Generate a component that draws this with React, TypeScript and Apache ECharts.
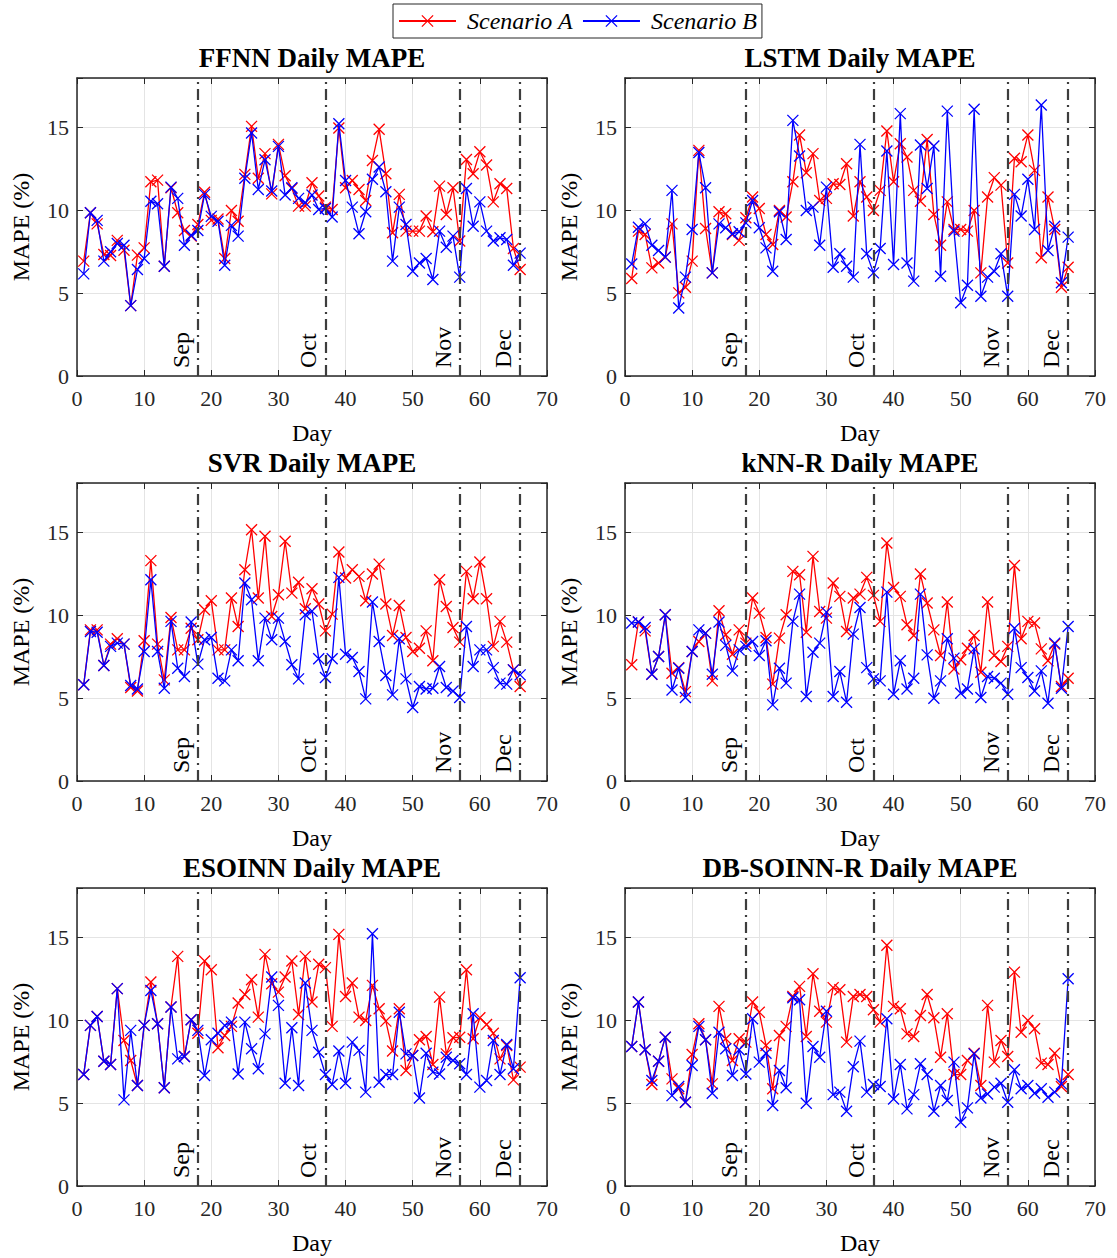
import React, { useEffect, useRef } from "react";
import * as echarts from "echarts";

const days = Array.from({ length: 66 }, (_, i) => i + 1);
const monthDays = [18, 37, 57, 66];
const monthNames = ["Sep", "Oct", "Nov", "Dec"];
const seriesNames = ["Scenario A", "Scenario B"];
const panelTitles = [
  "FFNN Daily MAPE",
  "LSTM Daily MAPE",
  "SVR Daily MAPE",
  "kNN-R Daily MAPE",
  "ESOINN Daily MAPE",
  "DB-SOINN-R Daily MAPE",
];

const ffnnA = [6.94, 9.86, 9.19, 7.34, 7.28, 8.19, 7.6, 4.25, 7.3, 7.74, 11.73, 11.83, 6.63, 11.37, 9.86, 8.79, 8.45, 9.15, 11.1, 9.4, 9.48, 7.1, 10.0, 9.35, 12.18, 15.08, 11.94, 13.43, 11.0, 13.99, 12.1, 11.33, 10.26, 10.26, 11.67, 10.87, 10.2, 10.06, 14.98, 11.37, 11.81, 11.27, 10.6, 13.02, 14.9, 12.22, 8.65, 10.97, 8.75, 8.75, 8.75, 9.66, 8.71, 11.47, 9.76, 11.37, 8.15, 13.08, 12.22, 13.55, 12.74, 10.52, 11.61, 11.33, 7.7, 6.43];
const ffnnB = [6.17, 9.86, 9.4, 6.94, 7.5, 8.0, 7.9, 4.25, 6.43, 7.1, 10.56, 10.4, 6.63, 11.41, 10.73, 7.9, 8.5, 8.79, 10.97, 9.64, 9.35, 6.69, 9.1, 8.45, 11.94, 14.68, 11.27, 13.06, 11.17, 13.87, 10.93, 11.37, 10.73, 10.46, 10.93, 10.06, 10.12, 9.6, 15.24, 11.81, 10.2, 8.59, 9.92, 11.88, 12.62, 11.13, 6.94, 10.2, 9.15, 6.33, 6.83, 7.1, 5.83, 8.75, 7.78, 8.45, 5.97, 11.33, 9.05, 10.52, 8.75, 8.15, 8.35, 8.25, 6.69, 7.42];
const lstmA = [5.89, 8.75, 8.55, 6.53, 6.83, 7.18, 9.19, 5.02, 5.36, 6.94, 13.63, 8.91, 6.23, 9.92, 9.8, 8.55, 8.19, 9.56, 10.81, 10.12, 8.55, 7.94, 10.0, 9.6, 11.73, 14.56, 12.28, 13.43, 10.6, 10.73, 11.61, 11.57, 12.82, 9.66, 11.73, 10.81, 10.0, 11.21, 14.8, 11.73, 14.03, 13.23, 11.21, 10.56, 14.29, 9.76, 7.9, 10.52, 8.85, 8.85, 8.75, 10.0, 6.23, 10.81, 11.98, 11.53, 6.83, 13.15, 12.94, 14.56, 12.42, 7.14, 10.81, 8.85, 5.36, 6.57];
const lstmB = [6.77, 8.99, 9.19, 7.9, 7.58, 7.18, 11.21, 4.11, 5.97, 8.85, 13.5, 11.37, 6.23, 9.19, 8.95, 8.59, 8.71, 9.25, 10.6, 8.95, 7.74, 6.33, 9.92, 8.25, 15.44, 13.29, 10.0, 10.2, 7.9, 11.41, 6.57, 7.38, 6.63, 5.97, 13.99, 7.38, 6.23, 7.7, 13.59, 6.73, 15.85, 6.83, 5.73, 13.95, 11.33, 13.89, 6.03, 16.0, 8.75, 4.42, 5.48, 16.11, 4.82, 5.97, 6.33, 7.38, 4.82, 10.97, 9.66, 11.88, 8.85, 16.37, 7.58, 9.05, 5.63, 8.39];
const svrA = [5.81, 9.13, 9.13, 6.98, 8.27, 8.59, 8.27, 5.65, 5.44, 8.47, 13.31, 8.27, 6.11, 9.88, 7.92, 7.92, 9.23, 8.53, 10.34, 10.89, 7.92, 7.92, 11.05, 9.33, 12.76, 15.18, 11.05, 14.78, 9.94, 11.25, 14.48, 11.35, 12.0, 10.4, 11.61, 10.69, 9.07, 10.08, 13.83, 12.26, 12.76, 12.36, 10.89, 12.5, 13.1, 10.69, 8.79, 10.6, 8.67, 7.82, 8.02, 9.07, 7.26, 12.16, 10.54, 9.27, 8.39, 12.66, 11.01, 13.23, 11.01, 8.13, 9.64, 8.39, 6.71, 5.71];
const svrB = [5.81, 9.03, 8.99, 6.98, 8.13, 8.33, 8.27, 5.77, 5.56, 7.82, 12.16, 7.82, 5.6, 9.64, 6.81, 6.31, 9.6, 7.06, 8.53, 8.67, 6.21, 6.05, 7.92, 7.26, 11.96, 10.95, 7.26, 9.84, 8.53, 9.84, 8.43, 7.02, 6.17, 10.04, 10.26, 7.38, 6.25, 7.38, 12.3, 7.66, 7.46, 6.61, 4.96, 10.81, 8.43, 6.37, 5.2, 8.59, 6.17, 4.44, 5.71, 5.56, 5.6, 6.92, 5.65, 5.44, 5.04, 9.33, 6.92, 7.92, 7.92, 6.85, 5.91, 5.85, 6.71, 6.41];
const knnA = [7.02, 9.6, 9.07, 6.45, 7.52, 10.04, 6.51, 6.85, 5.4, 7.82, 8.43, 8.93, 6.05, 10.28, 8.83, 7.66, 9.13, 8.33, 11.05, 10.14, 8.67, 5.85, 8.63, 10.04, 12.66, 12.46, 8.99, 13.57, 10.24, 9.84, 11.96, 11.15, 9.03, 11.05, 11.29, 12.3, 11.21, 9.64, 14.38, 11.69, 11.15, 9.44, 8.79, 12.5, 10.75, 9.13, 7.58, 10.81, 6.77, 7.32, 8.02, 8.79, 6.57, 10.81, 7.58, 7.22, 8.13, 13.02, 8.59, 9.64, 9.54, 7.98, 7.26, 8.27, 5.71, 6.21];
const knnB = [9.54, 9.6, 9.27, 6.45, 7.52, 10.04, 5.5, 6.81, 5.04, 7.82, 9.13, 8.93, 6.45, 9.6, 8.19, 6.65, 7.92, 8.13, 8.43, 7.58, 8.47, 4.6, 6.81, 5.91, 9.64, 11.29, 5.1, 7.78, 8.33, 10.2, 5.1, 6.61, 4.76, 8.87, 10.48, 6.85, 6.17, 6.05, 11.41, 5.24, 7.26, 5.56, 6.21, 11.29, 7.62, 5.0, 6.05, 8.59, 7.42, 5.3, 5.56, 7.98, 5.04, 6.31, 6.21, 5.91, 5.24, 9.23, 6.85, 6.25, 5.44, 6.65, 4.7, 8.33, 5.6, 9.33];
const esoinnA = [6.73, 9.7, 10.24, 7.54, 7.34, 11.92, 8.79, 7.58, 6.07, 9.7, 12.32, 9.8, 5.93, 10.81, 13.87, 7.82, 10.04, 9.23, 13.59, 13.06, 8.35, 9.09, 9.64, 11.05, 11.57, 12.46, 10.2, 13.99, 12.22, 11.71, 12.62, 13.59, 10.36, 13.87, 11.11, 13.39, 13.19, 9.64, 15.2, 11.45, 12.26, 10.2, 10.0, 12.12, 10.71, 9.96, 8.15, 10.71, 6.98, 7.88, 8.83, 9.03, 7.34, 11.41, 7.98, 8.95, 8.99, 13.06, 8.89, 10.16, 9.76, 9.23, 7.68, 8.49, 6.41, 7.18];
const esoinnB = [6.73, 9.7, 10.24, 7.54, 7.34, 11.92, 5.2, 9.4, 6.07, 9.7, 11.81, 9.8, 5.93, 10.81, 7.68, 7.82, 10.04, 9.4, 6.67, 8.83, 9.23, 9.7, 9.9, 6.77, 9.9, 8.29, 7.08, 9.19, 12.62, 10.91, 6.21, 9.56, 6.07, 12.26, 9.4, 8.08, 6.73, 6.13, 8.15, 6.21, 8.69, 8.19, 5.67, 15.24, 6.27, 6.73, 6.73, 10.5, 7.98, 7.88, 5.32, 8.02, 6.88, 6.77, 7.78, 7.58, 7.38, 6.73, 10.4, 5.97, 6.37, 8.79, 6.73, 8.55, 7.08, 12.58];
const dbA = [8.43, 11.11, 8.23, 6.13, 7.54, 8.99, 6.47, 5.87, 5.06, 7.94, 9.8, 8.83, 6.17, 10.85, 8.89, 7.58, 8.89, 8.69, 11.11, 10.5, 8.49, 5.87, 9.09, 9.64, 11.45, 12.06, 9.03, 12.82, 10.56, 9.9, 11.98, 11.85, 8.69, 11.45, 11.57, 11.45, 10.65, 9.9, 14.54, 10.85, 10.71, 9.19, 9.03, 10.3, 11.57, 10.16, 7.78, 10.4, 6.73, 6.73, 7.58, 8.02, 6.07, 10.91, 7.48, 8.79, 7.82, 12.92, 9.29, 10.0, 9.5, 7.42, 7.34, 8.02, 6.01, 6.73];
const dbB = [8.43, 11.11, 8.23, 6.37, 7.54, 8.99, 5.46, 6.01, 5.06, 7.28, 9.64, 8.83, 5.6, 9.29, 8.29, 6.67, 8.23, 6.77, 10.1, 7.48, 8.02, 4.86, 6.98, 5.93, 11.37, 11.25, 5.0, 8.43, 7.78, 10.56, 5.52, 5.67, 4.52, 7.2, 8.75, 5.67, 6.13, 6.01, 10.1, 5.26, 7.34, 4.66, 5.52, 7.38, 6.73, 4.52, 6.07, 5.16, 7.48, 3.85, 4.72, 7.98, 5.32, 5.56, 5.97, 6.21, 5.06, 7.02, 5.87, 6.07, 5.6, 5.87, 5.36, 5.67, 6.17, 12.52];

const panelData = [
  [ffnnA, ffnnB],
  [lstmA, lstmB],
  [svrA, svrB],
  [knnA, knnB],
  [esoinnA, esoinnB],
  [dbA, dbB],
];

const FONT = '"Liberation Serif", "Times New Roman", Times, serif';
const AXIS_COLOR = "#262626";
const X_MARK = "path://M0,0L10,10M10,0L0,10";
const COLORS = ["#ff0000", "#0000ff"];

function buildOption() {
  const grids: any[] = [];
  const xAxes: any[] = [];
  const yAxes: any[] = [];
  const series: any[] = [];
  const graphics: any[] = [];

  const axisLine = { show: true, onZero: false, lineStyle: { color: AXIS_COLOR, width: 1.5 } };
  const tick = { show: true, inside: true, length: 6, lineStyle: { color: AXIS_COLOR, width: 1 } };

  panelData.forEach((pair, i) => {
    const col = i % 2;
    const row = Math.floor(i / 2);
    const left = col === 0 ? 77 : 625;
    const top = 78 + row * 405;
    const width = 470;
    const height = 298;
    grids.push({ left, top, width, height, containLabel: false, show: false });

    xAxes.push({
      gridIndex: i,
      type: "value",
      position: "bottom",
      min: 0,
      max: 70,
      interval: 10,
      name: "Day",
      nameLocation: "middle",
      nameGap: 45,
      nameTextStyle: { fontFamily: FONT, fontSize: 24, color: "#000" },
      axisLine,
      axisTick: tick,
      axisLabel: { fontFamily: FONT, fontSize: 22, color: AXIS_COLOR, margin: 11 },
      splitLine: { show: true, lineStyle: { color: "#e4e4e4", width: 1 } },
    });
    xAxes.push({
      gridIndex: i,
      type: "value",
      position: "top",
      min: 0,
      max: 70,
      interval: 10,
      axisLine,
      axisTick: tick,
      axisLabel: { show: false },
      splitLine: { show: false },
    });
    yAxes.push({
      gridIndex: i,
      type: "value",
      position: "left",
      min: 0,
      max: 18,
      interval: 5,
      name: "MAPE (%)",
      nameLocation: "middle",
      nameGap: 44,
      nameTextStyle: { fontFamily: FONT, fontSize: 24, color: "#000" },
      axisLine,
      axisTick: tick,
      axisLabel: {
        fontFamily: FONT,
        fontSize: 22,
        color: AXIS_COLOR,
        margin: 8,
        formatter: (v: number) => (v % 5 === 0 ? String(v) : ""),
      },
      splitLine: { show: true, lineStyle: { color: "#e4e4e4", width: 1 } },
    });
    yAxes.push({
      gridIndex: i,
      type: "value",
      position: "right",
      min: 0,
      max: 18,
      interval: 5,
      axisLine,
      axisTick: tick,
      axisLabel: { show: false },
      splitLine: { show: false },
    });

    pair.forEach((vals, k) => {
      const s: any = {
        type: "line",
        name: seriesNames[k],
        xAxisIndex: 2 * i,
        yAxisIndex: 2 * i,
        data: days.map((d, j) => [d, vals[j]]),
        symbol: X_MARK,
        symbolSize: 11,
        showSymbol: true,
        showAllSymbol: true,
        lineStyle: { color: COLORS[k], width: 1.3 },
        itemStyle: { color: COLORS[k], borderColor: COLORS[k], borderWidth: 1.3 },
        emphasis: { disabled: true },
        silent: true,
        z: 2 + k,
      };
      if (k === 1) {
        s.markLine = {
          silent: true,
          symbol: ["none", "none"],
          animation: false,
          lineStyle: { color: "#3d3d3d", width: 2.2, type: [11, 5, 2, 5] },
          label: {
            show: true,
            position: "insideStartTop",
            formatter: "{b}",
            fontFamily: FONT,
            fontSize: 24,
            color: "#000",
            distance: [8, 5],
          },
          emphasis: { disabled: true },
          data: monthDays.map((d, m) => ({ xAxis: d, name: monthNames[m] })),
        };
      }
      series.push(s);
    });

    graphics.push({
      type: "text",
      x: left + width / 2,
      y: top - 34,
      silent: true,
      style: {
        text: panelTitles[i],
        align: "center",
        verticalAlign: "top",
        fontFamily: FONT,
        fontSize: 27,
        fontWeight: "bold",
        fill: "#000",
      },
    });
  });

  return {
    animation: false,
    backgroundColor: "#ffffff",
    grid: grids,
    xAxis: xAxes,
    yAxis: yAxes,
    series,
    graphic: graphics,
    legend: {
      data: seriesNames,
      left: 393,
      top: 4,
      orient: "horizontal",
      backgroundColor: "#ffffff",
      borderColor: AXIS_COLOR,
      borderWidth: 1,
      borderRadius: 0,
      padding: [5, 5, 5, 5],
      itemWidth: 57,
      itemHeight: 14,
      itemGap: 9,
      selectedMode: false,
      itemStyle: { borderWidth: 1.3 },
      textStyle: {
        fontFamily: FONT,
        fontSize: 24,
        fontStyle: "italic",
        color: "#000",
        padding: [0, 0, 0, 6],
      },
    },
  };
}

export default function App() {
  const ref = useRef<HTMLDivElement>(null);
  useEffect(() => {
    if (!ref.current) return;
    const chart = echarts.init(ref.current, null, { renderer: "svg" });
    chart.setOption(buildOption() as any);
    return () => chart.dispose();
  }, []);
  return (
    <div
      ref={ref}
      style={{ position: "absolute", left: 0, top: 0, width: 1117, height: 1258, background: "#fff" }}
    />
  );
}
